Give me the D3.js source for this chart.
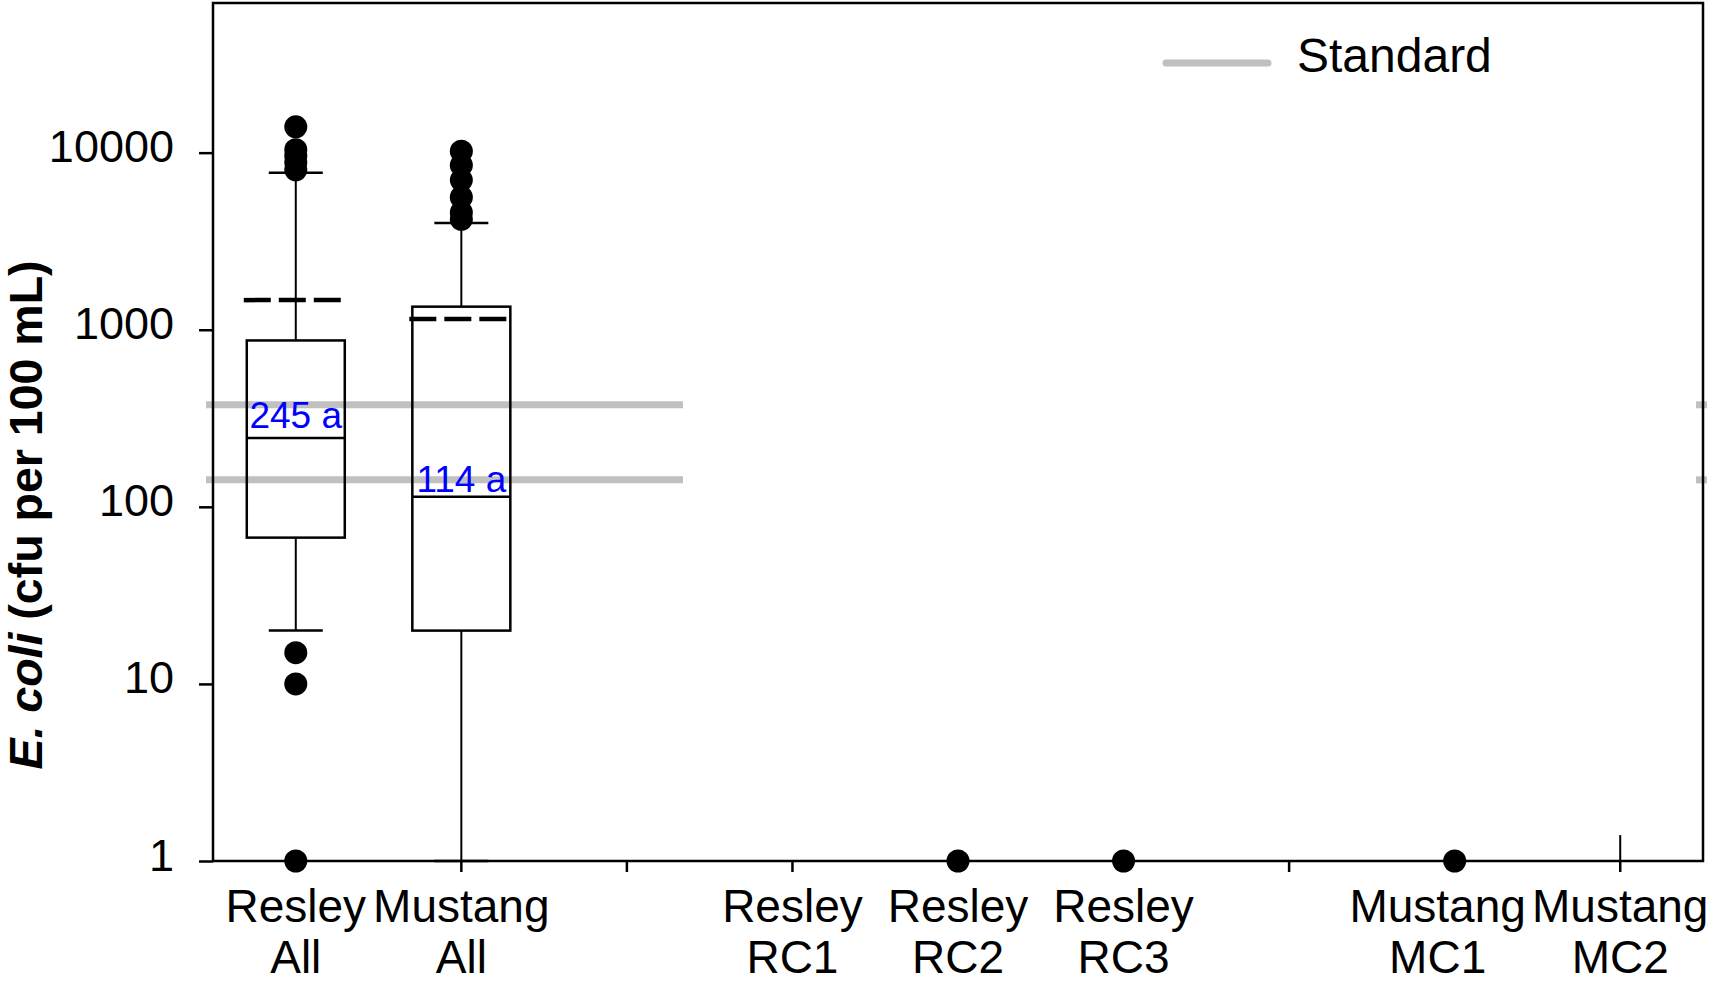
<!DOCTYPE html>
<html>
<head>
<meta charset="utf-8">
<script src="https://cdn.jsdelivr.net/npm/d3@7"></script>
<style>
    body { margin: 0; background: #fff; }
    svg { display: block; font-family: "Liberation Sans", Arial, sans-serif; }
</style>
</head>
<body>
<div id="chart"></div>
<script>
// slots along the x axis (two empty slots separate the groups)
const slots = ["RA", "MA", "gap1", "RC1", "RC2", "RC3", "gap2", "MC1", "MC2"];
const labelTop = ["Resley", "Mustang", "", "Resley", "Resley", "Resley", "", "Mustang", "Mustang"];
const labelBottom = ["All", "All", "", "RC1", "RC2", "RC3", "", "MC1", "MC2"];

// box statistics (cfu per 100 mL)
const boxSlots = ["RA", "MA"];
const q1 = [67, 20];
const medians = [245, 114];
const q3 = [870, 1350];
const whiskLow = [20, 1];
const whiskHigh = [7700, 4000];
const means = [1470, 1150];
const medianLabels = ["245 a", "114 a"];

// outliers
const outliersRA = [14000, 10400, 9600, 8800, 8000, 15, 10, 1];
const outliersMA = [10200, 8500, 7000, 5600, 4600, 4200];

// sites with only a single value
const singleSlots = ["RC2", "RC3", "MC1"];
const singleValues = [1, 1, 1];
const mc2Range = [1, 1.4];

// standards
const standards = [377, 142];
const yTicks = [1, 10, 100, 1000, 10000];

const margin = { top: 3, right: 6, bottom: 122, left: 213 };
const W = 1709, H = 983;
const width = W - margin.left - margin.right;
const height = H - margin.top - margin.bottom;

const svg = d3.select("#chart").append("svg")
    .attr("width", W)
    .attr("height", H);

const g = svg.append("g")
    .attr("transform", `translate(${margin.left},${margin.top})`);

const x = d3.scaleBand().domain(slots).range([0, width]);
const y = d3.scaleLog().domain([1, 70000]).range([height, 0]);
const cx = d => x(d) + x.bandwidth() / 2;

const boxW = 98, capW = 54;

// standards (gray), cut short as in the original figure
const std = g.append("g");
standards.forEach(v => {
    std.append("line")
        .attr("x1", -7).attr("x2", 470)
        .attr("y1", y(v)).attr("y2", y(v))
        .attr("stroke", "#c0c0c0").attr("stroke-width", 7);
    std.append("line")
        .attr("x1", width - 7).attr("x2", width + 4)
        .attr("y1", y(v)).attr("y2", y(v))
        .attr("stroke", "#c0c0c0").attr("stroke-width", 7);
});

// y axis
const yAxis = g.append("g")
    .call(d3.axisLeft(y).tickValues(yTicks).tickFormat(d3.format("d"))
        .tickSize(14).tickSizeOuter(0).tickPadding(25));
yAxis.select(".domain").remove();
yAxis.selectAll(".tick line").attr("stroke", "#000").attr("stroke-width", 2.5);
yAxis.selectAll(".tick text")
    .attr("font-size", 45).attr("fill", "#000")
    .attr("font-family", "'Liberation Sans', Arial, sans-serif")
    .attr("dy", "0.2em");

// x axis
const xAxis = g.append("g")
    .attr("transform", `translate(0,${height})`)
    .call(d3.axisBottom(x).tickFormat("").tickSize(11).tickSizeOuter(0));
xAxis.select(".domain").remove();
xAxis.selectAll(".tick line").attr("stroke", "#000").attr("stroke-width", 2.5);

// MC1 label sits a little left of its tick in the original
const labelShift = s => (s === "MC1" ? -17 : 0);
const xl = g.append("g").attr("font-size", 46).attr("text-anchor", "middle");
slots.forEach((s, i) => {
    const lx = cx(s) + labelShift(s);
    const t = xl.append("text").attr("x", lx).attr("y", height + 61);
    t.append("tspan").attr("x", lx).text(labelTop[i]);
    t.append("tspan").attr("x", lx).attr("dy", 51).text(labelBottom[i]);
});

// frame
g.append("rect")
    .attr("width", width).attr("height", height)
    .attr("fill", "none").attr("stroke", "#000").attr("stroke-width", 2.5);

// boxes
const labelLift = [10, 5];
const boxes = g.append("g");
boxSlots.forEach((s, i) => {
    const c = cx(s);
    const b = boxes.append("g").attr("stroke", "#000").attr("fill", "none");
    b.append("line").attr("x1", c).attr("x2", c)
        .attr("y1", y(q3[i])).attr("y2", y(whiskHigh[i])).attr("stroke-width", 2);
    b.append("line").attr("x1", c).attr("x2", c)
        .attr("y1", y(q1[i])).attr("y2", y(whiskLow[i])).attr("stroke-width", 2);
    b.append("line").attr("x1", c - capW / 2).attr("x2", c + capW / 2)
        .attr("y1", y(whiskHigh[i])).attr("y2", y(whiskHigh[i])).attr("stroke-width", 2.5);
    b.append("line").attr("x1", c - capW / 2).attr("x2", c + capW / 2)
        .attr("y1", y(whiskLow[i])).attr("y2", y(whiskLow[i])).attr("stroke-width", 2.5);
    b.append("rect")
        .attr("x", c - boxW / 2).attr("width", boxW)
        .attr("y", y(q3[i])).attr("height", y(q1[i]) - y(q3[i]))
        .attr("stroke-width", 2.5);
    b.append("line").attr("x1", c - boxW / 2).attr("x2", c + boxW / 2)
        .attr("y1", y(medians[i])).attr("y2", y(medians[i])).attr("stroke-width", 2.5);
    b.append("line").attr("x1", c - boxW / 2 - 3).attr("x2", c + boxW / 2 - 2)
        .attr("y1", y(means[i])).attr("y2", y(means[i]))
        .attr("stroke-width", 4.5).attr("stroke-dasharray", "27,8");
    boxes.append("text")
        .attr("x", c).attr("y", y(medians[i]) - labelLift[i])
        .attr("text-anchor", "middle")
        .attr("font-size", 37).attr("fill", "#0000ff")
        .text(medianLabels[i]);
});

// MC2 short whisker
g.append("line")
    .attr("x1", cx("MC2")).attr("x2", cx("MC2"))
    .attr("y1", y(mc2Range[0])).attr("y2", y(mc2Range[1]))
    .attr("stroke", "#000").attr("stroke-width", 2);

// points
const pts = []
    .concat(outliersRA.map(v => ({ s: "RA", v })))
    .concat(outliersMA.map(v => ({ s: "MA", v })))
    .concat(singleSlots.map((s, i) => ({ s, v: singleValues[i] })));

g.append("g").selectAll("circle")
    .data(pts)
    .join("circle")
    .attr("cx", d => cx(d.s))
    .attr("cy", d => y(d.v))
    .attr("r", 11.5)
    .attr("fill", "#000");

// legend
const lg = svg.append("g");
lg.append("line")
    .attr("x1", 1166).attr("x2", 1268).attr("y1", 63).attr("y2", 63)
    .attr("stroke", "#c0c0c0").attr("stroke-width", 7).attr("stroke-linecap", "round");
lg.append("text")
    .attr("x", 1297).attr("y", 72)
    .attr("font-size", 48)
    .text("Standard");

// y axis title
const yt = svg.append("text")
    .attr("transform", `translate(42,${margin.top + height / 2 + 83}) rotate(-90)`)
    .attr("text-anchor", "middle")
    .attr("font-size", 46.5)
    .attr("font-weight", "bold");
yt.append("tspan").attr("font-style", "italic").text("E. coli");
yt.append("tspan").text(" (cfu per 100 mL)");
</script>
</body>
</html>
